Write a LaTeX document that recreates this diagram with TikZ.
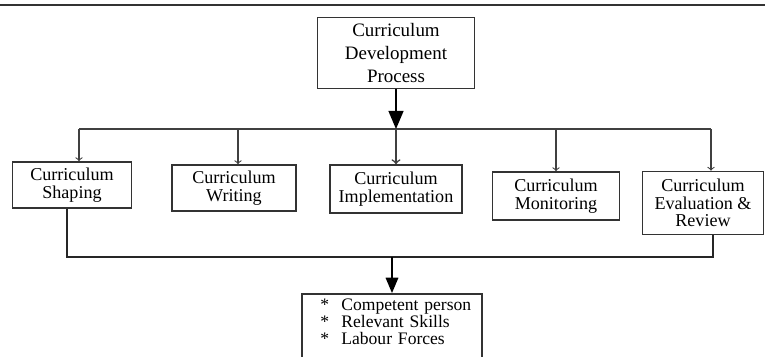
\documentclass[tikz,border=0pt]{standalone}
\usepackage{fontspec}
\setmainfont{Liberation Serif}
\usetikzlibrary{arrows}

\begin{document}
\begin{tikzpicture}[x=0.02cm, y=-0.02cm,
    stage/.style={draw=black!80, line width=0.9pt, fill=white, align=center, inner sep=0pt, font=\fontsize{10.3}{10}\selectfont},
    link/.style={draw=black!75, line width=0.6pt},
    joint/.style={draw=black!85, line width=1.1pt}]
      \useasboundingbox (0,0) rectangle (765,357);
      \draw[black!80, line width=1.2pt] (0,5) -- (765,5);
      \node[stage, minimum width=3.14cm, minimum height=1.42cm, font=\fontsize{10.8}{13}\selectfont] (process) at (396,53) {Curriculum\\Development\\Process};
      \node[stage, minimum width=2.38cm, minimum height=0.92cm] (shaping) at (72,185) {Curriculum\\Shaping};
      \node[stage, minimum width=2.48cm, minimum height=0.92cm] (writing) at (234,188) {Curriculum\\Writing};
      \node[stage, minimum width=2.64cm, minimum height=0.96cm] (implement) at (396,189) {Curriculum\\Implementation};
      \node[stage, minimum width=2.54cm, minimum height=0.96cm] (monitor) at (556,196) {Curriculum\\Monitoring};
      \node[stage, minimum width=2.42cm, minimum height=1.26cm] (evaluation) at (703,203) {Curriculum\\Evaluation \&\\Review};
      \node[stage, anchor=north, text width=3.36cm, inner xsep=0.12cm, inner ysep=0.1cm, align=left, font=\fontsize{10}{9.8}\selectfont] (outcomes) at (392,293)
        {\hspace*{7pt}*\hspace{7pt}Competent person\\\hspace*{7pt}*\hspace{7pt}Relevant Skills\\\hspace*{7pt}*\hspace{7pt}Labour Forces\\\mbox{}};
      % distribution line
      \coordinate (busL) at (79,129);
      \coordinate (busM) at (396,129);
      \coordinate (busR) at (711,129);
      \draw[link] (busL) -- (busR);
      \draw[link,->] (busL) -- (shaping.north -| busL);
      \draw[link,->] (busL -| writing.north) ++(4,0) coordinate (busW) -- (writing.north -| busW);
      \draw[link,->] (busL -| monitor.north) -- (monitor.north);
      \draw[link,->] (busR) -- (evaluation.north -| busR);
      \draw[line width=1.4pt, -triangle 45] (process) -- (busM);
      \draw[link, line width=0.9pt, ->] (busM) -- (implement);
      % collecting line
      \coordinate (joinL) at (67,257);
      \coordinate (joinM) at (392,257);
      \coordinate (joinR) at (713,257);
      \draw[joint] (shaping.south -| joinL) -- (joinL) -- (joinR) -- (evaluation.south -| joinR);
      \draw[line width=1pt, -triangle 45] (joinM) -- (outcomes);
\end{tikzpicture}
\end{document}
